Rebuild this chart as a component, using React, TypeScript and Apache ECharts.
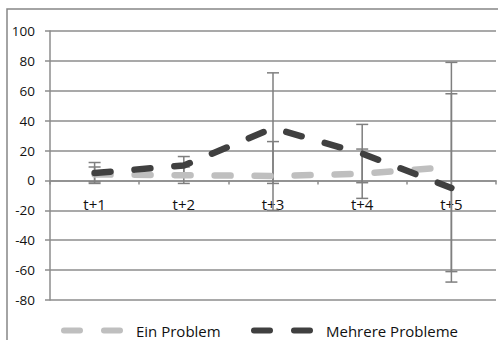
import React, { useEffect, useRef } from "react";
import * as echarts from "echarts";

const categories = ["t+1", "t+2", "t+3", "t+4", "t+5"];
const einProblem = [4, 3.5, 3, 4.5, 9];
const einProblemErr = [5, 5.5, 23, 16.5, 70];
const mehrereProbleme = [5, 10, 35, 18, -5];
const mehrereProblemeErr = [7, 6, 37, 19.5, 63];
const yMin = -80;
const yMax = 100;
const yInterval = 20;

const FONT = "Open Sans";
const LIGHT = "#bfbfbf";
const DARK = "#404040";
const GRID = "#8c8c8c";
const ERR = "#7f7f7f";
const TEXT = "#111111";

const dashIcon =
  "path://M3,0H19A3,3 0 0 1 19,6H3A3,3 0 0 1 3,0ZM43,0H59A3,3 0 0 1 59,6H43A3,3 0 0 1 43,0Z";

function errorSeries(name: string, values: number[], errs: number[]) {
  return {
    type: "custom",
    name,
    z: 1,
    silent: true,
    encode: { x: 0, y: 1 },
    data: values.map((v, i) => [i, v, errs[i]]),
    renderItem: (_p: any, api: any) => {
      const x = api.value(0);
      const y = api.value(1);
      const e = api.value(2);
      const top = api.coord([x, y + e]);
      const bot = api.coord([x, y - e]);
      const hw = 6;
      const style = { stroke: ERR, lineWidth: 1.5 };
      return {
        type: "group",
        children: [
          { type: "line", shape: { x1: top[0], y1: top[1], x2: bot[0], y2: bot[1] }, style },
          { type: "line", shape: { x1: top[0] - hw, y1: top[1], x2: top[0] + hw, y2: top[1] }, style },
          { type: "line", shape: { x1: bot[0] - hw, y1: bot[1], x2: bot[0] + hw, y2: bot[1] }, style },
        ],
      };
    },
  };
}

export default function App() {
  const ref = useRef<HTMLDivElement>(null);
  useEffect(() => {
    if (!ref.current) return;
    const chart = echarts.init(ref.current, undefined, { renderer: "svg" });
    const legendBase = {
      orient: "horizontal",
      top: 318,
      itemWidth: 62,
      itemHeight: 6,
      itemGap: 0,
      textStyle: { fontFamily: FONT, fontSize: 15, color: TEXT, padding: [0, 0, 0, 8] },
      selectedMode: false,
    };
    chart.setOption({
      animation: false,
      backgroundColor: "#ffffff",
      graphic: [
        {
          type: "rect",
          shape: { x: 7, y: 9, width: 520, height: 360 },
          style: { fill: "none", stroke: "#868686", lineWidth: 1.5 },
          silent: true,
        },
      ],
      grid: { left: 50, right: 2, top: 31, bottom: 40, containLabel: false },
      legend: [
        { ...legendBase, left: 56, data: [{ name: "Ein Problem", icon: dashIcon }] },
        { ...legendBase, left: 246, data: [{ name: "Mehrere Probleme", icon: dashIcon }] },
      ],
      xAxis: {
        type: "category",
        data: categories,
        axisLine: { onZero: true, lineStyle: { color: GRID, width: 1.5 } },
        axisTick: { show: true, length: 4, inside: false, lineStyle: { color: GRID, width: 1.5 } },
        axisLabel: { fontFamily: FONT, fontSize: 15, color: TEXT, margin: -104 },
      },
      yAxis: {
        type: "value",
        min: yMin,
        max: yMax,
        interval: yInterval,
        axisLine: { show: true, lineStyle: { color: GRID, width: 1.5 } },
        axisTick: { show: true, length: 5, lineStyle: { color: GRID, width: 1.5 } },
        splitLine: { show: true, lineStyle: { color: GRID, width: 1.5 } },
        axisLabel: { fontFamily: FONT, fontSize: 13.5, color: TEXT, margin: 15 },
      },
      series: [
        errorSeries("errEin", einProblem, einProblemErr),
        errorSeries("errMehrere", mehrereProbleme, mehrereProblemeErr),
        {
          type: "line",
          name: "Ein Problem",
          data: einProblem,
          symbol: "none",
          z: 3,
          color: LIGHT,
          lineStyle: { color: LIGHT, width: 6.5, type: [16, 24], cap: "round" },
        },
        {
          type: "line",
          name: "Mehrere Probleme",
          data: mehrereProbleme,
          symbol: "none",
          z: 4,
          color: DARK,
          lineStyle: { color: DARK, width: 6.5, type: [16, 24], cap: "round" },
        },
      ],
    });
    return () => chart.dispose();
  }, []);
  return (
    <div
      ref={ref}
      style={{ position: "fixed", left: 0, top: 0, width: 498, height: 340 }}
    />
  );
}
